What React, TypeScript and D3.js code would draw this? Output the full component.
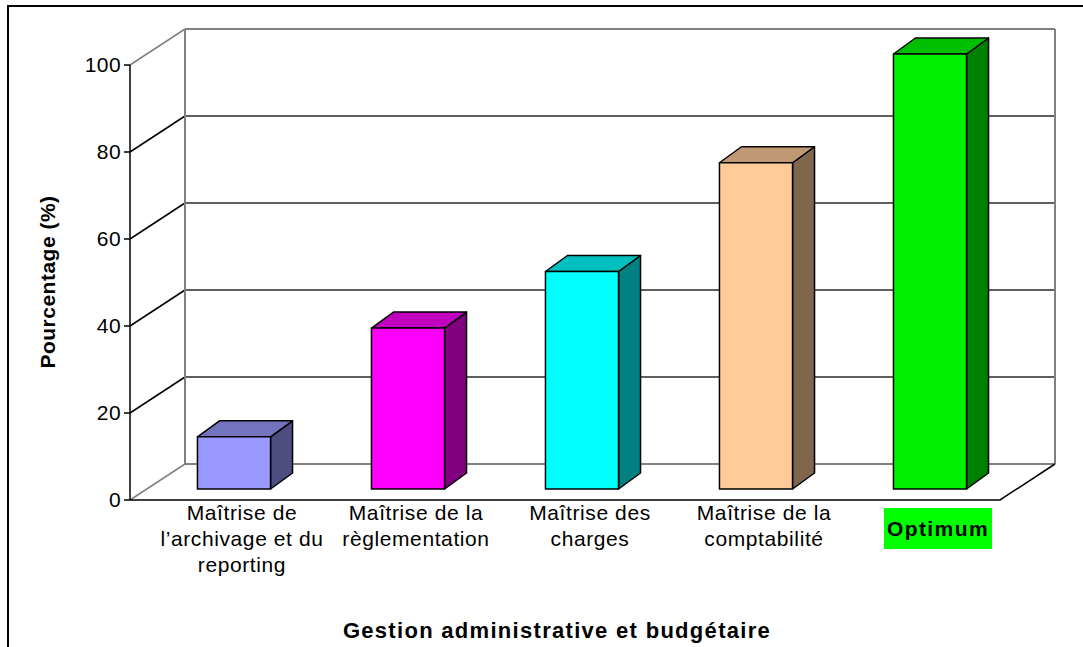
import React, { useEffect, useRef } from 'react';
import * as d3 from 'd3';

// data
const categories = [
  ['Maîtrise de', 'l\u2019archivage et du', 'reporting'],
  ['Maîtrise de la', 'règlementation'],
  ['Maîtrise des', 'charges'],
  ['Maîtrise de la', 'comptabilité'],
  ['Optimum'],
];
const values = [12, 37, 50, 75, 100];
const barColors = ['#9999FF', '#FF00FF', '#00FFFF', '#FFCC99', '#00FF00'];
const yTicks = [0, 20, 40, 60, 80, 100];
const yTitle = 'Pourcentage (%)';
const xTitle = 'Gestion administrative et budgétaire';

const FONT = '"Liberation Sans", Arial, sans-serif';

function shade(c: string, k: number) {
  const r = d3.rgb(c);
  return d3.rgb(r.r * k, r.g * k, r.b * k).formatHex();
}

export default function App() {
  const ref = useRef<SVGSVGElement | null>(null);

  useEffect(() => {
    const W = 1083;
    const H = 647;
    const x0 = 130;
    const x1 = 1000;
    // depth of the plot box
    const dX = 55;
    const dY = -36;

    const svg = d3.select(ref.current);
    svg.selectAll('*').remove();

    const y = d3.scaleLinear().domain([0, 100]).range([500, 65]);
    const idx = categories.map((_, i) => String(i));
    const x = d3.scaleBand().domain(idx).range([x0, x1]);
    const xLab = d3.scaleBand().domain(idx).range([155, 1025]);

    // outer frame (right/bottom edges are off the picture)
    svg
      .append('path')
      .attr('d', `M8,${H} L8,6 L${W},6`)
      .attr('fill', 'none')
      .attr('stroke', '#000')
      .attr('stroke-width', 2);

    const g = svg.append('g');
    const grey = '#808080';
    const grid = '#2a2a2a';

    // back wall + side wall grid lines
    yTicks.forEach((t) => {
      const yy = y(t);
      const edge = t === 0 || t === 100;
      g.append('line')
        .attr('x1', x0)
        .attr('y1', yy)
        .attr('x2', x0 + dX)
        .attr('y2', yy + dY)
        .attr('stroke', edge ? grey : '#000')
        .attr('stroke-width', 1.5);
      g.append('line')
        .attr('x1', x0 + dX)
        .attr('y1', yy + dY)
        .attr('x2', x1 + dX)
        .attr('y2', yy + dY)
        .attr('stroke', edge ? grey : grid)
        .attr('stroke-width', edge ? 2 : 1.5);
    });
    // back wall verticals
    [x0 + dX, x1 + dX].forEach((xx) => {
      g.append('line')
        .attr('x1', xx)
        .attr('y1', y(100) + dY)
        .attr('x2', xx)
        .attr('y2', y(0) + dY)
        .attr('stroke', grey)
        .attr('stroke-width', 2);
    });

    // front axis and floor edge
    g.append('line')
      .attr('x1', x0)
      .attr('y1', y(100))
      .attr('x2', x0)
      .attr('y2', y(0))
      .attr('stroke', '#000')
      .attr('stroke-width', 1.5);
    g.append('path')
      .attr('d', `M${x0},${y(0)} L${x1},${y(0)} L${x1 + dX},${y(0) + dY}`)
      .attr('fill', 'none')
      .attr('stroke', '#000')
      .attr('stroke-width', 1.5);

    // ticks
    yTicks.forEach((t) => {
      g.append('line')
        .attr('x1', x0 - 6)
        .attr('y1', y(t))
        .attr('x2', x0)
        .attr('y2', y(t))
        .attr('stroke', '#000')
        .attr('stroke-width', 1.5);
      g.append('text')
        .attr('x', x0 - 9)
        .attr('y', y(t) + 7)
        .attr('text-anchor', 'end')
        .attr('font-family', FONT)
        .attr('font-size', 21)
        .attr('letter-spacing', 0.4)
        .text(t);
    });

    // bars
    const fOff = [17, -11];
    const bD = [22, -16];
    const bw = x.bandwidth() * 0.42;
    values.forEach((v, i) => {
      const c = barColors[i];
      const left = x(String(i))! + (x.bandwidth() - bw) / 2 + fOff[0];
      const right = left + bw;
      const bot = y(0) + fOff[1];
      const top = y(v) + fOff[1];
      const bar = g.append('g').attr('stroke', '#000').attr('stroke-width', 1.5).attr('stroke-linejoin', 'round');
      bar
        .append('path')
        .attr(
          'd',
          `M${right},${bot} L${right + bD[0]},${bot + bD[1]} L${right + bD[0]},${top + bD[1]} L${right},${top} Z`
        )
        .attr('fill', shade(c, 0.5));
      bar
        .append('path')
        .attr(
          'd',
          `M${left},${top} L${left + bD[0]},${top + bD[1]} L${right + bD[0]},${top + bD[1]} L${right},${top} Z`
        )
        .attr('fill', shade(c, 0.75));
      bar
        .append('rect')
        .attr('x', left)
        .attr('y', top)
        .attr('width', bw)
        .attr('height', bot - top)
        .attr('fill', i === 4 ? '#00f000' : c);
    });

    // category labels
    categories.forEach((lines, i) => {
      const cx = xLab(String(i))! + xLab.bandwidth() / 2;
      const last = i === categories.length - 1;
      if (last) {
        g.append('rect')
          .attr('x', cx - 54)
          .attr('y', 508)
          .attr('width', 108)
          .attr('height', 41)
          .attr('fill', '#00FF00');
      }
      const t = g
        .append('text')
        .attr('text-anchor', 'middle')
        .attr('font-family', FONT)
        .attr('font-size', 21)
        .attr('letter-spacing', last ? 1.4 : 0.6)
        .attr('font-weight', last ? 'bold' : 'normal');
      lines.forEach((l, k) => {
        t.append('tspan')
          .attr('x', cx)
          .attr('y', (last ? 536 : 520) + k * 26)
          .text(l);
      });
    });

    // axis titles
    g.append('text')
      .attr('x', 557)
      .attr('y', 638)
      .attr('text-anchor', 'middle')
      .attr('font-family', FONT)
      .attr('font-size', 22)
      .attr('letter-spacing', 1.3)
      .attr('font-weight', 'bold')
      .text(xTitle);
    g.append('text')
      .attr('transform', 'translate(55,282) rotate(-90)')
      .attr('text-anchor', 'middle')
      .attr('font-family', FONT)
      .attr('font-size', 21)
      .attr('letter-spacing', 0.5)
      .attr('font-weight', 'bold')
      .text(yTitle);
  }, []);

  return (
    <div style={{ position: 'absolute', left: 0, top: 0 }}>
      <svg ref={ref} width={1083} height={647} style={{ display: 'block', background: '#fff' }} />
    </div>
  );
}
